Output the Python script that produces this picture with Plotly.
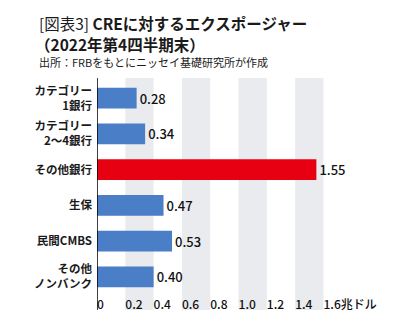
import plotly.graph_objects as go

categories = ["カテゴリー<br>1銀行", "カテゴリー<br>2～4銀行", "その他銀行", "生保", "民間CMBS", "その他<br>ノンバンク"]
values = [0.28, 0.34, 1.55, 0.47, 0.53, 0.40]
bar_colors = ["#4a7ec6", "#4a7ec6", "#e60012", "#4a7ec6", "#4a7ec6", "#4a7ec6"]
tick_vals = [0, 0.2, 0.4, 0.6, 0.8, 1.0, 1.2, 1.4, 1.6]
tick_text = ["0", "0.2", "0.4", "0.6", "0.8", "1.0", "1.2", "1.4", "1.6兆ドル"]

title_line1 = "[図表3] <b>CREに対するエクスポージャー</b>"
title_line2 = "<b>（2022年第4四半期末）</b>"
source_text = "出所：FRBをもとにニッセイ基礎研究所が作成"

FONT = "Noto Sans CJK JP"

W, H = 407, 333
ml, mr, mt, mb = 97, 34, 78, 16
ph = H - mt - mb
band_bottom = (H - mb - 310) / ph

fig = go.Figure()
fig.add_trace(go.Bar(
    x=values, y=categories, orientation="h",
    marker=dict(color=bar_colors, line=dict(width=0)),
    width=0.58,
    text=[f"{v:.2f}" for v in values],
    textposition="outside",
    textfont=dict(family=FONT, size=13, color="#111111", weight=500),
    cliponaxis=False,
))

shapes = []
for i in range(1, len(tick_vals) - 1, 2):
    shapes.append(dict(type="rect", xref="x", yref="paper",
                       x0=tick_vals[i], x1=tick_vals[i + 1], y0=band_bottom, y1=1,
                       fillcolor="#e9ebef", line=dict(width=0), layer="below"))
shapes.append(dict(type="line", xref="x", yref="paper", x0=0, x1=0,
                   y0=band_bottom, y1=1, line=dict(color="#000000", width=1.5),
                   layer="above"))

fig.update_layout(
    width=W, height=H,
    margin=dict(l=ml, r=mr, t=mt, b=mb, pad=0),
    paper_bgcolor="white", plot_bgcolor="white",
    showlegend=False,
    shapes=shapes,
    font=dict(family=FONT, color="#1a1a1a"),
    xaxis=dict(range=[0, 1.95], tickvals=tick_vals, ticktext=tick_text,
               ticklabelposition="inside right", ticklabeloverflow="allow",
               tickangle=0,
               ticks="", showgrid=False, zeroline=False, showline=False,
               tickfont=dict(family=FONT, size=12, color="#111111", weight=500)),
    yaxis=dict(range=[6.12, -0.56], showgrid=False, zeroline=False,
               showline=False,
               ticks="", ticklabelstandoff=4,
               tickfont=dict(family=FONT, size=11.5, color="#1a1a1a", weight="bold")),
    annotations=[
        dict(text=title_line1, xref="paper", yref="paper", x=(37 - ml) / (W - ml - mr),
             y=1 + (mt - 23) / ph, xanchor="left", yanchor="middle",
             showarrow=False, font=dict(family=FONT, size=15.5, color="#1a1a1a")),
        dict(text=title_line2, xref="paper", yref="paper", x=(33 - ml) / (W - ml - mr),
             y=1 + (mt - 44) / ph, xanchor="left", yanchor="middle",
             showarrow=False, font=dict(family=FONT, size=15.5, color="#1a1a1a")),
        dict(text=source_text, xref="paper", yref="paper", x=(37 - ml) / (W - ml - mr),
             y=1 + (mt - 62) / ph, xanchor="left", yanchor="middle",
             showarrow=False, font=dict(family=FONT, size=11, color="#1a1a1a")),
    ],
)

fig.write_html("out.html")
